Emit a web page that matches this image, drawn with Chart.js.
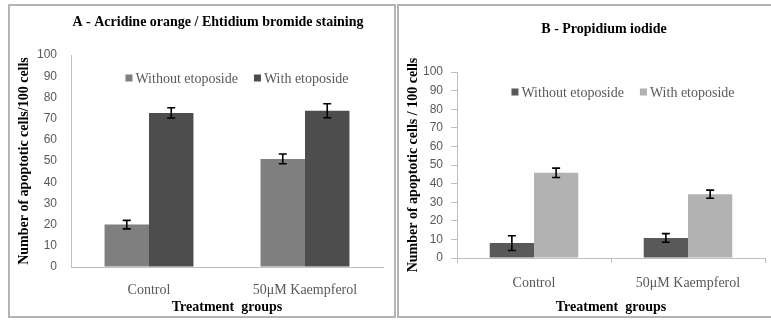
<!DOCTYPE html>
<html>
<head>
<meta charset="utf-8">
<script src="https://cdn.jsdelivr.net/npm/chart.js@4.4.1/dist/chart.umd.min.js"></script>
<style>
  body { margin: 0; background: #fff; width: 771px; height: 320px; overflow: hidden; position: relative; }
  .panel { position: absolute; border: 2px solid #b4b4b4; box-sizing: content-box; }
  #panelA { left: 8px; top: 4px; width: 384px; height: 310px; }
  #panelB { left: 397px; top: 4px; width: 374px; height: 310px; border-right: none; }
  canvas { position: absolute; left: 0; top: 0; }
</style>
</head>
<body>
<div class="panel" id="panelA"><canvas id="chartA" width="384" height="310"></canvas></div>
<div class="panel" id="panelB"><canvas id="chartB" width="372" height="310"></canvas></div>
<script>
const categories = ['Control', '50\u03bcM Kaempferol'];
const seriesNames = ['Without etoposide', 'With etoposide'];

// A - Acridine orange / Ethidium bromide
const aWithout = [20, 51];
const aWithoutErr = [2, 2.3];
const aWith = [72.7, 73.7];
const aWithErr = [2.4, 3.3];

// B - Propidium iodide
const bWithout = [8, 10.8];
const bWithoutErr = [4, 2.3];
const bWith = [45.8, 34.3];
const bWithErr = [2.5, 2.2];

const serif = "'Liberation Serif', 'Times New Roman', serif";
const sans = "'Liberation Sans', Arial, sans-serif";

// error bars from dataset.errors
const errorBars = {
  id: 'errorBars',
  afterDatasetsDraw(chart) {
    const ctx = chart.ctx;
    const y = chart.scales.y;
    ctx.save();
    ctx.strokeStyle = '#000';
    ctx.lineWidth = 1.6;
    chart.data.datasets.forEach((ds, di) => {
      const meta = chart.getDatasetMeta(di);
      meta.data.forEach((bar, i) => {
        const v = ds.data[i], e = ds.errors[i];
        const top = y.getPixelForValue(v + e);
        const bot = y.getPixelForValue(v - e);
        ctx.beginPath();
        ctx.moveTo(bar.x, top); ctx.lineTo(bar.x, bot);
        ctx.moveTo(bar.x - 4, top); ctx.lineTo(bar.x + 4, top);
        ctx.moveTo(bar.x - 4, bot); ctx.lineTo(bar.x + 4, bot);
        ctx.stroke();
      });
    });
    ctx.restore();
  }
};

// legend drawn inside the plot area
const innerLegend = {
  id: 'innerLegend',
  afterDraw(chart, args, opts) {
    const ctx = chart.ctx;
    const area = chart.chartArea;
    ctx.save();
    ctx.font = '14px ' + serif;
    ctx.textBaseline = 'middle';
    const box = 7, gap = 3, space = 16;
    const items = chart.data.datasets.map(ds => ({ text: ds.label, color: ds.backgroundColor, w: ctx.measureText(ds.label).width }));
    const total = items.reduce((s, it) => s + box + gap + it.w, 0) + space * (items.length - 1);
    let x = (area.left + area.right) / 2 + opts.dx - total / 2;
    const yc = area.top + opts.dy;
    items.forEach(it => {
      ctx.fillStyle = it.color;
      ctx.fillRect(x, yc - box / 2, box, box);
      x += box + gap;
      ctx.fillStyle = '#595959';
      ctx.fillText(it.text, x, yc + 1);
      x += it.w + space;
    });
    ctx.restore();
  }
};

// move the title sideways after layout
const titleShift = {
  id: 'titleShift',
  afterLayout(chart, args, opts) {
    const t = chart.titleBlock;
    if (t) { t.left += opts.dx; t.right += opts.dx; }
  }
};

function makeChart(id, o) {
  return new Chart(document.getElementById(id), {
    type: 'bar',
    data: {
      labels: categories,
      datasets: [
        { label: seriesNames[0], data: o.without, errors: o.withoutErr, backgroundColor: o.colors[0] },
        { label: seriesNames[1], data: o.with, errors: o.withErr, backgroundColor: o.colors[1] }
      ]
    },
    options: {
      responsive: false,
      animation: false,
      devicePixelRatio: 1,
      layout: { padding: { left: 0, right: o.padRight, top: 0, bottom: 0 } },
      datasets: { bar: { categoryPercentage: o.catPct, barPercentage: 1.0 } },
      plugins: {
        legend: { display: false },
        tooltip: { enabled: false },
        title: {
          display: true,
          fullSize: false,
          text: o.title,
          color: '#000',
          font: { family: serif, size: 14, weight: 'bold', lineHeight: 1.2 },
          padding: { top: o.titleTop, bottom: o.titleBottom }
        },
        innerLegend: { dx: o.legendDx, dy: o.legendDy },
        titleShift: { dx: o.titleDx }
      },
      scales: {
        x: {
          afterFit: s => { s.height = o.xHeight; },
          grid: { display: true, drawOnChartArea: false, drawTicks: o.ticks, tickLength: 5, color: '#bfbfbf' },
          border: { display: true, color: '#bfbfbf', width: 1 },
          ticks: { color: '#595959', font: { family: serif, size: 14 }, padding: o.xPad, maxRotation: 0 },
          title: { display: true, text: 'Treatment  groups', color: '#000', font: { family: serif, size: 14, weight: 'bold', lineHeight: 1.2 }, padding: { top: 0, bottom: 0 } }
        },
        y: {
          min: 0,
          max: 100,
          afterFit: s => { s.width = o.yWidth; },
          grid: { display: true, drawOnChartArea: false, drawTicks: o.ticks, tickLength: 6, color: '#bfbfbf' },
          border: { display: true, color: '#bfbfbf', width: 1 },
          ticks: { stepSize: 10, color: '#595959', font: { family: sans, size: 12 }, padding: o.yPad },
          title: { display: true, text: o.yTitle, color: '#000', font: { family: serif, size: 14, weight: 'bold', lineHeight: 1.2 }, padding: { top: o.yTitlePad, bottom: 0 } }
        }
      }
    },
    plugins: [errorBars, innerLegend, titleShift]
  });
}

makeChart('chartA', {
  title: 'A - Acridine orange / Ehtidium bromide staining',
  yTitle: 'Number of apoptotic cells/100 cells',
  without: aWithout, withoutErr: aWithoutErr, with: aWith, withErr: aWithErr,
  colors: ['#7f7f7f', '#4d4d4d'],
  padRight: 11, xHeight: 49, yWidth: 61, titleTop: 7.6, titleBottom: 24.6,
  catPct: 0.57, ticks: false, xPad: 15, yPad: 14, yTitlePad: 6,
  legendDx: 10, legendDy: 23, titleDx: -9
});

makeChart('chartB', {
  title: 'B - Propidium iodide',
  yTitle: 'Number of apoptotic cells / 100 cells',
  without: bWithout, withoutErr: bWithoutErr, with: bWith, withErr: bWithErr,
  colors: ['#595959', '#b2b2b2'],
  padRight: 6, xHeight: 58, yWidth: 58, titleTop: 15.4, titleBottom: 33.8,
  catPct: 0.575, ticks: true, xPad: 12, yPad: 8, yTitlePad: 6,
  legendDx: 12, legendDy: 20, titleDx: -7
});
</script>
</body>
</html>
